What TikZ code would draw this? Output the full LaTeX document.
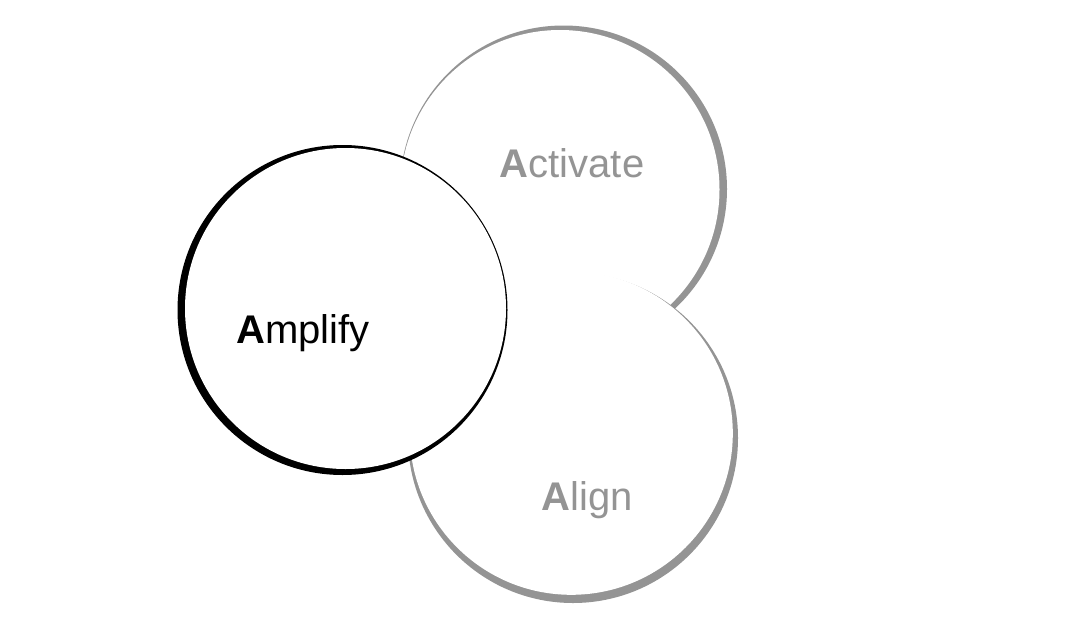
\documentclass[tikz,border=0pt]{standalone}
\usepackage{fontspec}
\setmainfont{Liberation Sans}
\definecolor{ringgray}{HTML}{949494}
\begin{document}
\begin{tikzpicture}[x=1pt,y=-1pt,
  lbl/.style={anchor=base,inner sep=0pt,font=\fontsize{40}{42}\selectfont}]
\useasboundingbox[fill=white] (0,0) rectangle (1067,621);
% Activate
\coordinate (acO) at (563.5,189);
\coordinate (acI) at (560,189.5);
\fill[ringgray] (acO) circle (163.5);
\fill[white] (acI) circle (159.5);
% Align
\coordinate (alO) at (573,438);
\coordinate (alI) at (571.3,433.3);
\fill[ringgray] (alO) circle (165);
\fill[white] (alI) circle (161.5);
% Amplify
\coordinate (amO) at (342.5,310);
\coordinate (amI) at (345.5,308.5);
\fill[black] (amO) circle (165);
\fill[white] (amI) circle (160.5);
% labels
\node[lbl,text=black] (amplify) at (303,343) {\textbf{A}mplify};
\node[lbl,text=ringgray] (activate) at (572,177) {\textbf{A}ctivate};
\node[lbl,text=ringgray] (align) at (587,510) {\textbf{A}lign};
\end{tikzpicture}
\end{document}
